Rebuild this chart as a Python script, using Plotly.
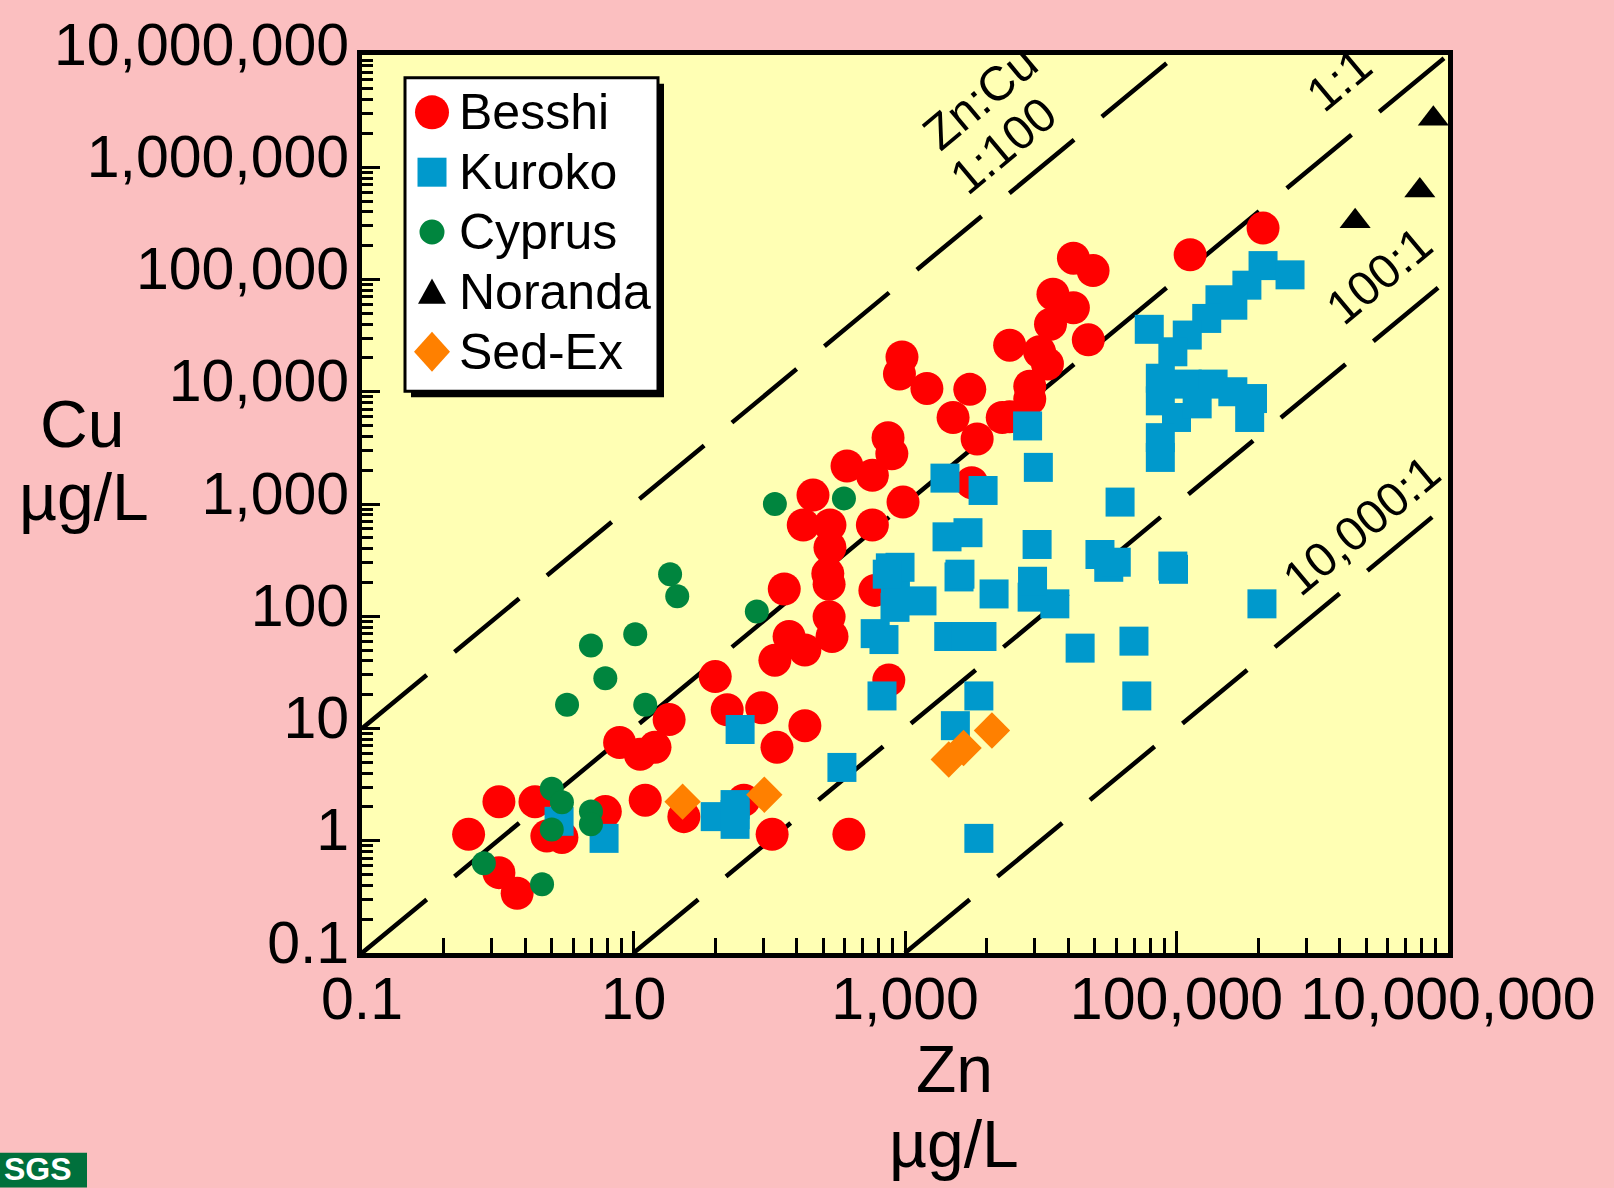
import math
import plotly.graph_objects as go

# ---------------- data (Zn, Cu in ug/L) ----------------
besshi_zn = [0.61, 1.02, 1.02, 1.39, 1.88, 2.3, 2.97, 6.2, 12.2, 23.5, 65, 105, 386,
             7.9, 11.2, 14.4, 18.3, 40, 49, 88, 114, 183,
             129, 276, 140, 110, 183, 276, 290, 600, 760,
             950, 910, 1450, 3000, 2260, 3400, 3100, 750, 800, 374, 575, 967, 210, 178, 280, 575, 280, 270,
             17400, 24300, 12300, 17400, 11800, 22400, 5900, 11200, 8300, 8300, 5900, 9800, 5200,
             126000, 434000]
besshi_cu = [1.14, 2.23, 0.52, 0.34, 2.23, 1.1, 1.07, 1.82, 2.3, 1.64, 2.3, 1.14, 1.14,
             7.5, 5.9, 6.8, 12, 29, 14.7, 15.3, 6.8, 10.6,
             175, 193, 66, 40.6, 50, 99, 66, 170, 27,
             20400, 14400, 10700, 10500, 5900, 3800, 1550, 3900, 2800, 2180, 1800, 1040, 1200, 650, 650, 650, 410, 240,
             155000, 120000, 74000, 56000, 40000, 29000, 26000, 17700, 11200, 8600, 6000, 22700, 5900,
             166000, 287000]

kuroko_zn = [2.83, 6.07, 61, 40, 56, 56, 56, 343, 677, 603, 700, 844, 850, 780,
             1334, 2500, 2100, 3690, 2800, 4530, 8640, 12700, 31700, 95000, 19500, 48600, 51000,
             426000, 3500, 2350, 3500, 919, 2540, 8700, 740,
             1970, 3760, 8000, 9600, 2040, 2910, 9400, 38400, 27300, 36000, 94000,
             63000, 209000, 330000, 434000, 686000, 260000, 167000, 120000, 94000, 76000, 76000,
             100000, 76000, 76000, 120000, 186000, 260000, 363000, 346000, 142000]
kuroko_cu = [1.49, 1.05, 9.8, 1.64, 1.71, 2.1, 1.4, 4.5, 19.5, 70, 62, 120, 200, 270,
             137, 224, 66, 66, 66, 158, 148, 129, 273, 262, 52, 60, 19.5,
             129, 19.5, 10.6, 1.05, 273, 237, 205, 237,
             1700, 1320, 4960, 2120, 510, 555, 436, 1040, 355, 303, 280,
             36000, 66000, 89000, 133000, 110000, 59000, 45000, 32000, 22700, 13200, 8300,
             5900, 3900, 2600, 11700, 11700, 10000, 8700, 5900, 7800]

cyprus_zn = [0.79, 2.12, 2.5, 2.97, 2.5, 4.86, 4.86, 3.24, 6.2, 4.86, 10.3, 12.2, 18.6, 21, 81, 110, 355]
cyprus_cu = [0.63, 0.41, 2.9, 2.2, 1.26, 1.82, 1.4, 16.3, 28, 55, 69, 16.3, 237, 151, 110, 1000, 1120]

noranda_zn = [2070000, 6200000, 7800000]
noranda_cu = [331000, 620000, 2700000]

sedex_zn = [23, 92, 2100, 2700, 4370]
sedex_cu = [2.23, 2.57, 5.3, 6.7, 9.6]

# Zn:Cu reference ratios
ratios = [0.01, 1, 100, 10000]
ratio_labels = ["1:100", "1:1", "100:1", "10,000:1"]
label_zn_log = [3.916, 6.436, 6.715, 6.545]
label_offset = [41, 50, 47, 39]

x_tick_vals = [0.1, 10, 1000, 100000, 10000000]
x_tick_text = ["0.1", "10", "1,000", "100,000", "10,000,000"]
y_tick_vals = [0.1, 1, 10, 100, 1000, 10000, 100000, 1000000, 10000000]
y_tick_text = ["0.1", "1", "10", "100", "1,000", "10,000", "100,000", "1,000,000", "10,000,000"]

series_names = ["Besshi", "Kuroko", "Cyprus", "Noranda", "Sed-Ex"]
series_colors = ["#FF0000", "#0099CC", "#00853E", "#000000", "#FF8000"]

# ---------------- layout constants ----------------
W, H = 1614, 1188
ML, MR, MT, MB = 362, 166, 45, 235
PW, PH = W - ML - MR, H - MT - MB
FONT = "Arial, 'Liberation Sans', Helvetica, sans-serif"
PINK = "#FBBFC0"
YELLOW = "#FFFFB4"


def pxx(px):
    return (px - ML) / PW


def pxy(py):
    return (H - MB - py) / PH


XMIN, XMAX = 0.1, 1e7
YMIN, YMAX = 0.1, 1e7

fig = go.Figure()

# ratio lines (under the markers)
for r in ratios:
    x0 = max(XMIN, YMIN * r)
    x1 = min(XMAX, YMAX * r)
    fig.add_trace(go.Scatter(x=[x0, x1], y=[x0 / r, x1 / r], mode="lines",
                             line=dict(color="black", width=4.5, dash="84px,36px"),
                             hoverinfo="skip", showlegend=False))

# data series
fig.add_trace(go.Scatter(x=besshi_zn, y=besshi_cu, mode="markers", name=series_names[0],
                         marker=dict(symbol="circle", size=33, color=series_colors[0], line=dict(width=0))))
fig.add_trace(go.Scatter(x=kuroko_zn, y=kuroko_cu, mode="markers", name=series_names[1],
                         marker=dict(symbol="square", size=29, color=series_colors[1], line=dict(width=0))))
fig.add_trace(go.Scatter(x=cyprus_zn, y=cyprus_cu, mode="markers", name=series_names[2],
                         marker=dict(symbol="circle", size=24, color=series_colors[2], line=dict(width=0))))
fig.add_trace(go.Scatter(x=noranda_zn, y=noranda_cu, mode="markers", name=series_names[3],
                         marker=dict(symbol="triangle-up", size=27, color=series_colors[3], line=dict(width=0))))
fig.add_trace(go.Scatter(x=sedex_zn, y=sedex_cu, mode="markers", name=series_names[4],
                         marker=dict(symbol="diamond", size=28, color=series_colors[4], line=dict(width=0))))

# minor ticks
x_minor = [m * k * k for m in x_tick_vals[:-1] for k in range(2, 10)]
y_minor = [m * k for m in y_tick_vals[:-1] for k in range(2, 10)]

annotations = []
theta = math.atan((PH / 8) / (PW / 8))
ang = math.degrees(theta)
for r, lab, zl, d in zip(ratios, ratio_labels, label_zn_log, label_offset):
    annotations.append(dict(x=zl, y=zl - math.log10(r), xref="x", yref="y", text=lab,
                            showarrow=False, textangle=-ang, font=dict(family=FONT, size=48, color="black"),
                            xshift=-d * math.sin(theta), yshift=d * math.cos(theta)))
# "Zn:Cu" heading above the 1:100 label
zc_log, d2 = 3.99, 92
annotations.append(dict(x=zc_log, y=zc_log - math.log10(ratios[0]),
                        xref="x", yref="y", text="Zn:Cu", showarrow=False, textangle=-ang,
                        font=dict(family=FONT, size=48, color="black"),
                        xshift=-d2 * math.sin(theta), yshift=d2 * math.cos(theta)))

# axis titles
for txt, px, py in [("Cu", 82, 418), ("µg/L", 84, 492), ("Zn", 954, 1070), ("µg/L", 954, 1146)]:
    annotations.append(dict(x=pxx(px), y=pxy(py), xref="paper", yref="paper", text=txt, showarrow=False,
                            xanchor="center", yanchor="middle", font=dict(family=FONT, size=66, color="black")))

# manual legend
LEG_L, LEG_T, LEG_R, LEG_B = 405, 68, 658, 385
leg_y = [103 + 60.5 * i for i in range(5)]
shapes = []
shapes.append(dict(type="rect", xref="paper", yref="paper", x0=pxx(LEG_L + 6), x1=pxx(LEG_R + 6),
                   y0=pxy(LEG_B + 6), y1=pxy(LEG_T + 6), fillcolor="black", line=dict(width=0), layer="above"))
shapes.append(dict(type="rect", xref="paper", yref="paper", x0=pxx(LEG_L), x1=pxx(LEG_R),
                   y0=pxy(LEG_B), y1=pxy(LEG_T), fillcolor="white", line=dict(color="black", width=3),
                   layer="above"))
mx = pxx(432)
sym_paths = [
    ("circle", 17),
    ("square", 14.5),
    ("circle", 12.5),
    ("triangle", 14),
    ("diamond", 18),
]
for i, (kind, s) in enumerate(sym_paths):
    yy = pxy(leg_y[i])
    col = series_colors[i]
    base = dict(xref="paper", yref="paper", xsizemode="pixel", ysizemode="pixel", xanchor=mx, yanchor=yy,
                fillcolor=col, line=dict(width=0), layer="above")
    if kind == "circle":
        shapes.append(dict(type="circle", x0=-s, x1=s, y0=-s, y1=s, **base))
    elif kind == "square":
        shapes.append(dict(type="rect", x0=-s, x1=s, y0=-s, y1=s, **base))
    elif kind == "triangle":
        shapes.append(dict(type="path", path=f"M{-s},{-s * 0.85} L{s},{-s * 0.85} L0,{s * 0.95} Z", **base))
    else:
        shapes.append(dict(type="path", path=f"M0,{s + 2} L{s},0 L0,{-s - 2} L{-s},0 Z", **base))
    annotations.append(dict(x=pxx(457), y=yy, xref="paper", yref="paper", text=series_names[i],
                            showarrow=False, xanchor="left", yanchor="middle",
                            font=dict(family=FONT, size=50, color="black")))

# USGS logo fragment (bottom-left)
shapes.append(dict(type="rect", xref="paper", yref="paper", x0=pxx(0), x1=pxx(87), y0=pxy(1190), y1=pxy(1155),
                   fillcolor="#00703C", line=dict(width=0), layer="above"))
annotations.append(dict(x=pxx(2), y=pxy(1171), xref="paper", yref="paper", text="<b>SGS</b>", showarrow=False,
                        xanchor="left", yanchor="middle", font=dict(family=FONT, size=32, color="white")))

axis_common = dict(type="log", showgrid=False, zeroline=False, showline=True, linecolor="black", linewidth=5,
                   mirror=True, ticks="inside", tickcolor="black", tickwidth=3)

fig.update_layout(
    width=W, height=H, autosize=False,
    margin=dict(l=ML, r=MR, t=MT, b=MB, pad=0),
    paper_bgcolor=PINK, plot_bgcolor=YELLOW,
    showlegend=False,
    font=dict(family=FONT, color="black"),
    xaxis=dict(range=[-1, 7], tickmode="array", tickvals=x_tick_vals, ticktext=x_tick_text, ticklen=22,
               tickfont=dict(family=FONT, size=59, color="black"), ticklabelstandoff=-10,
               minor=dict(tickmode="array", tickvals=x_minor, ticks="inside", ticklen=15, tickwidth=3,
                          tickcolor="black", showgrid=False),
               **axis_common),
    yaxis=dict(range=[-1, 7], tickmode="array", tickvals=y_tick_vals, ticktext=y_tick_text, ticklen=18,
               tickfont=dict(family=FONT, size=59, color="black"), ticklabelstandoff=-4, ticklabelshift=-11,
               minor=dict(tickmode="array", tickvals=y_minor, ticks="inside", ticklen=11, tickwidth=3,
                          tickcolor="black", showgrid=False),
               **axis_common),
    annotations=annotations,
    shapes=shapes,
)

fig.write_html("out.html", config={"displayModeBar": False},
               post_script="document.body.style.margin='0';document.body.style.overflow='hidden';")
